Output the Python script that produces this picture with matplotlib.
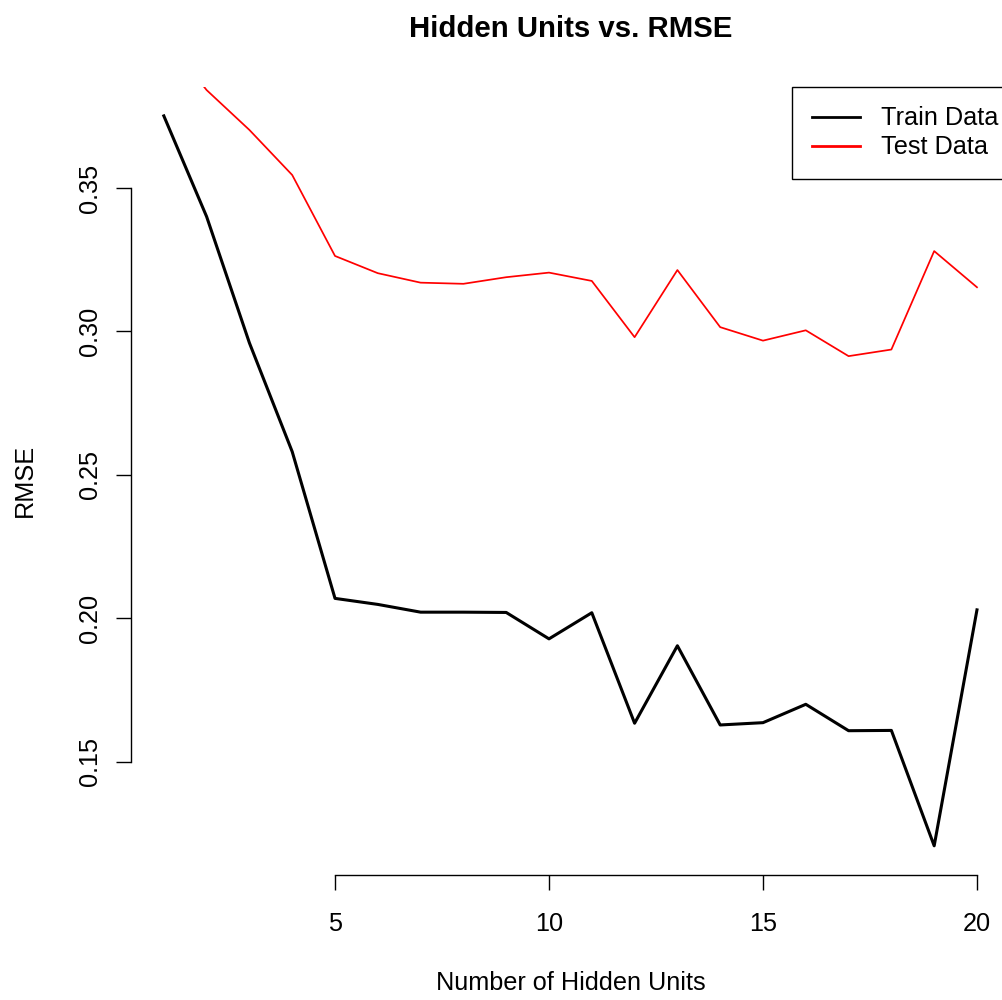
import numpy as np
import matplotlib
matplotlib.use("Agg")
import matplotlib.pyplot as plt

plt.rcParams['font.family'] = ['Liberation Sans', 'DejaVu Sans']

hidden_units = list(range(1, 21))
train_rmse = [0.3751, 0.3400, 0.2960, 0.2581, 0.2070, 0.2049, 0.2022, 0.2022, 0.2021, 0.1929,
              0.2020, 0.1635, 0.1905, 0.1629, 0.1637, 0.1701, 0.1609, 0.1610, 0.1208, 0.2030]
test_rmse = [0.4030, 0.3841, 0.3702, 0.3545, 0.3263, 0.3203, 0.3170, 0.3166, 0.3189, 0.3205,
             0.3176, 0.2980, 0.3214, 0.3015, 0.2968, 0.3004, 0.2914, 0.2937, 0.3280, 0.3154]
x_ticks = [5, 10, 15, 20]
y_ticks = [0.15, 0.20, 0.25, 0.30, 0.35]

W, H = 1002, 1000
fig = plt.figure(figsize=(W / 100, H / 100), dpi=100)

# R-style limits: range of the first series plus 4% on each side
def r_lim(v):
    lo, hi = min(v), max(v)
    d = (hi - lo) * 0.04
    return lo - d, hi + d

xlim = r_lim(hidden_units)
ylim = r_lim(train_rmse)

# plot region in pixels (extends a little past the right edge)
left_px, right_px = 131.3, 1009.5
top_px, bottom_px = 86.7, 875.0
ax = fig.add_axes([left_px / W, 1 - bottom_px / H,
                   (right_px - left_px) / W, (bottom_px - top_px) / H])

ax.plot(hidden_units, train_rmse, color='black', lw=2.2, label='Train Data')
ax.plot(hidden_units, test_rmse, color='red', lw=1.25, label='Test Data')

fs = 18.2

ax.set_xlim(*xlim)
ax.set_ylim(*ylim)
ax.set_xticks(x_ticks)
ax.set_xticklabels([str(t) for t in x_ticks])
ax.set_yticks(y_ticks)
ax.set_yticklabels(['%.2f' % t for t in y_ticks], rotation=90, va='center')

for s in ['top', 'right']:
    ax.spines[s].set_visible(False)
ax.spines['left'].set_bounds(y_ticks[0], y_ticks[-1])
ax.spines['bottom'].set_bounds(x_ticks[0], x_ticks[-1])
for s in ['left', 'bottom']:
    ax.spines[s].set_linewidth(1.0)
ax.tick_params(direction='out', length=10.8, width=1.0, labelsize=fs)
ax.tick_params(axis='x', pad=16)
ax.tick_params(axis='y', pad=10)

ax.set_xlabel('Number of Hidden Units', fontsize=fs)
ax.set_ylabel('RMSE', fontsize=fs)
ax.xaxis.set_label_coords(0.5, (bottom_px - 983) / (bottom_px - top_px))
ax.xaxis.label.set_va('center')
ax.yaxis.set_label_coords((25 - left_px) / (right_px - left_px), 0.5)
ax.yaxis.label.set_va('center')
ax.yaxis.label.set_ha('center')

fig.text((left_px + right_px) / 2 / W, 1 - 29 / H, 'Hidden Units vs. RMSE',
         fontsize=21.2, fontweight='bold', ha='center', va='center')

leg = ax.legend(loc='upper left',
                bbox_to_anchor=((792 - left_px) / (right_px - left_px), 1.0),
                borderaxespad=0, fancybox=False, framealpha=1, edgecolor='black',
                fontsize=fs, handlelength=1.9, handletextpad=0.85,
                borderpad=0.78, labelspacing=0.2)
leg.get_frame().set_linewidth(1.0)
for ln in leg.get_lines():
    ln.set_linewidth(2.0)

fig.savefig('out.png', dpi=100)
